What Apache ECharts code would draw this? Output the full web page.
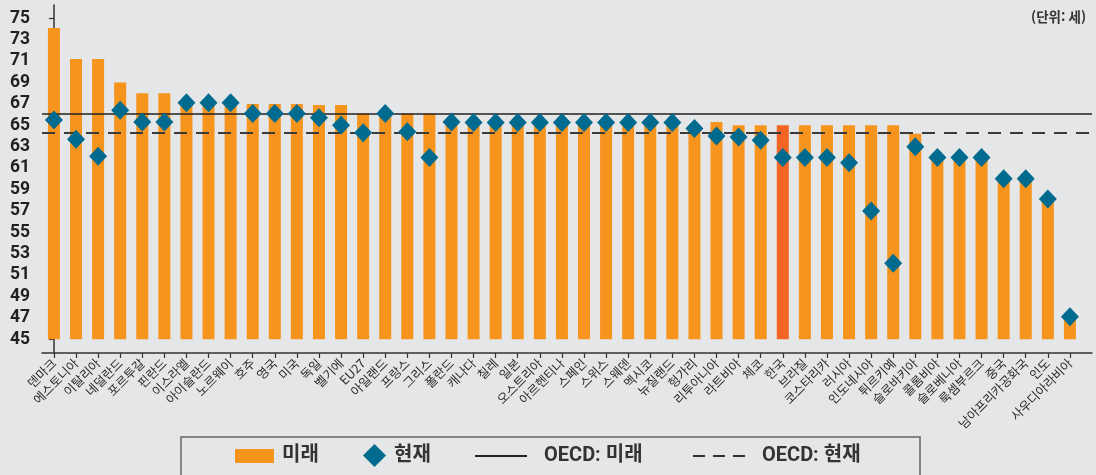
<!DOCTYPE html>
<html lang="ko">
<head>
<meta charset="utf-8">
<title>정년 연령: 현재와 미래</title>
<script src="https://cdn.jsdelivr.net/npm/echarts@6/dist/echarts.min.js"></script>
<style>
  html, body { margin: 0; padding: 0; background: #E5E6E8; }
  #main { width: 1096px; height: 475px; }
</style>
</head>
<body>
<div id="main"></div>
<script>
// 국가 (왼쪽 -> 오른쪽)
var countries = ['덴마크', '에스토니아', '이탈리아', '네덜란드', '포르투갈', '핀란드', '이스라엘', '아이슬란드',
  '노르웨이', '호주', '영국', '미국', '독일', '벨기에', 'EU27', '아일랜드', '프랑스', '그리스', '폴란드',
  '캐나다', '칠레', '일본', '오스트리아', '아르헨티나', '스페인', '스위스', '스웨덴', '멕시코', '뉴질랜드',
  '헝가리', '리투아니아', '라트비아', '체코', '한국', '브라질', '코스타리카', '러시아', '인도네시아',
  '튀르키예', '슬로바키아', '콜롬비아', '슬로베니아', '룩셈부르크', '중국', '남아프리카공화국', '인도', '사우디아라비아'];

// 미래 (막대)
var futureAge = [74.1, 71.2, 71.2, 69.0, 68.0, 68.0, 67.0, 67.0,
  67.0, 67.0, 67.0, 67.0, 66.9, 66.9, 66.1, 66.1, 66.1, 66.1, 65.0,
  65.0, 65.0, 65.0, 65.0, 65.0, 65.0, 65.0, 65.0, 65.0, 65.0,
  65.0, 65.3, 65.0, 65.0, 65.0, 65.0, 65.0, 65.0, 65.0,
  65.0, 64.2, 62.0, 62.0, 62.0, 60.0, 60.0, 58.2, 47.0];

// 현재 (마름모)
var currentAge = [65.5, 63.7, 62.1, 66.4, 65.3, 65.3, 67.1, 67.1,
  67.1, 66.1, 66.1, 66.1, 65.7, 65.0, 64.3, 66.1, 64.4, 62.0, 65.3,
  65.25, 65.25, 65.25, 65.25, 65.25, 65.25, 65.25, 65.25, 65.25, 65.25,
  64.7, 64.0, 63.9, 63.6, 62.0, 62.0, 62.0, 61.5, 57.0,
  52.1, 63.0, 62.0, 62.0, 62.0, 60.0, 60.0, 58.1, 47.1];

var oecdFuture = 66.1;
var oecdCurrent = 64.3;

var yTicks = [45, 47, 49, 51, 53, 55, 57, 59, 61, 63, 65, 67, 69, 71, 73, 75];
var barBase = 45;   // 막대가 시작하는 값
var highlight = '한국';

var myChart = echarts.init(document.getElementById('main'));

var idx = countries.map(function (c, i) { return i; });
var futureData = countries.map(function (c, i) {
  var item = { value: [i, futureAge[i]] };
  if (c === highlight) item.itemStyle = { color: '#F26522' };
  return item;
});
var currentData = countries.map(function (c, i) { return [i, currentAge[i]]; });

var txt = '#2b2b2b';
function legendText(gap) {
  return { fontSize: 20, fontWeight: 'bold', color: '#333',
    fontFamily: 'Roboto, "Noto Sans CJK KR"', padding: [0, 0, 0, gap] };
}

// 45에서 시작하는 막대
function renderBar(params, api) {
  var x = api.value(0);
  var top = api.coord([x, api.value(1)]);
  var bottom = api.coord([x, barBase]);
  var w = 12;
  return {
    type: 'rect',
    shape: { x: top[0] - w / 2, y: top[1], width: w, height: bottom[1] - top[1] },
    style: { fill: api.visual('color') }
  };
}

var option = {
  backgroundColor: '#E5E6E8',
  animation: false,
  title: {
    text: '(단위: 세)',
    right: 5, top: 5,
    textStyle: { fontSize: 13.5, fontWeight: 'bold', color: '#333', fontFamily: '"Noto Sans CJK KR"' }
  },
  grid: { left: 42, right: 4, top: 5, bottom: 122, outerBoundsMode: 'none' },
  xAxis: {
    type: 'value',
    min: -0.54, max: 47,
    splitLine: { show: false },
    axisLine: { show: true, onZero: false, lineStyle: { color: '#333', width: 1.5 } },
    axisTick: { show: true, length: 5, customValues: idx, lineStyle: { color: '#333', width: 1.2 } },
    axisLabel: {
      customValues: idx,
      rotate: 45,
      margin: 8,
      fontSize: 12.5,
      color: txt,
      fontFamily: '"Noto Sans CJK KR"',
      formatter: function (v) { return countries[Math.round(v)]; }
    }
  },
  yAxis: {
    type: 'value',
    min: 43.72, max: 76.24,
    splitLine: { show: false },
    axisLine: { show: true, lineStyle: { color: '#333', width: 1.5 } },
    axisTick: { show: true, length: 5, customValues: yTicks, lineStyle: { color: '#333', width: 1.2 } },
    axisLabel: {
      customValues: yTicks,
      margin: 12,
      fontSize: 17.5,
      fontWeight: 'bold',
      color: '#231F20',
      fontFamily: 'Roboto'
    }
  },
  legend: [
    { data: [{ name: '미래', icon: 'rect' }], left: 235, top: 446, padding: 0,
      itemWidth: 39, itemHeight: 14, selectedMode: false, textStyle: legendText(3) },
    { data: [{ name: '현재', icon: 'diamond', itemStyle: { color: '#006B8E', opacity: 1 } }], left: 363, top: 444, padding: 0,
      itemWidth: 23, itemHeight: 23, selectedMode: false, textStyle: legendText(3) },
    { data: [{ name: 'OECD: 미래', icon: 'path://M0,0L52,0L52,2L0,2Z', itemStyle: { color: '#222' } }],
      left: 475, top: 446, padding: 0, itemWidth: 52, itemHeight: 14, selectedMode: false, textStyle: legendText(12) },
    { data: [{ name: 'OECD: 현재', icon: 'path://M0,0L12,0L12,2L0,2Z M20,0L32,0L32,2L20,2Z M40,0L52,0L52,2L40,2Z', itemStyle: { color: '#333' } }],
      left: 693, top: 446, padding: 0, itemWidth: 52, itemHeight: 14, selectedMode: false, textStyle: legendText(12) }
  ],
  graphic: [{
    type: 'rect',
    shape: { x: 181, y: 437, width: 739, height: 60 },
    style: { fill: 'none', stroke: '#666', lineWidth: 1.5 },
    silent: true
  }],
  series: [
    {
      name: '미래', type: 'custom', renderItem: renderBar,
      encode: { x: 0, y: 1 },
      itemStyle: { color: '#F7941D' }, data: futureData, z: 2
    },
    {
      name: 'OECD: 미래', type: 'line', data: [], z: 3,
      itemStyle: { color: '#222' },
      markLine: {
        silent: true, symbol: 'none', label: { show: false },
        lineStyle: { color: '#222', width: 1.5, type: 'solid' },
        data: [{ yAxis: oecdFuture }]
      }
    },
    {
      name: 'OECD: 현재', type: 'line', data: [], z: 3,
      itemStyle: { color: '#333' },
      markLine: {
        silent: true, symbol: 'none', label: { show: false },
        lineStyle: { color: '#3a3a3a', width: 2, type: [13, 9] },
        data: [{ yAxis: oecdCurrent }]
      }
    },
    {
      name: '현재', type: 'scatter', symbol: 'diamond', symbolSize: [18, 19],
      itemStyle: { color: '#006B8E', opacity: 1 }, data: currentData, z: 5
    }
  ]
};

myChart.setOption(option);
window.onresize = function () { myChart.resize(); };
</script>
</body>
</html>
